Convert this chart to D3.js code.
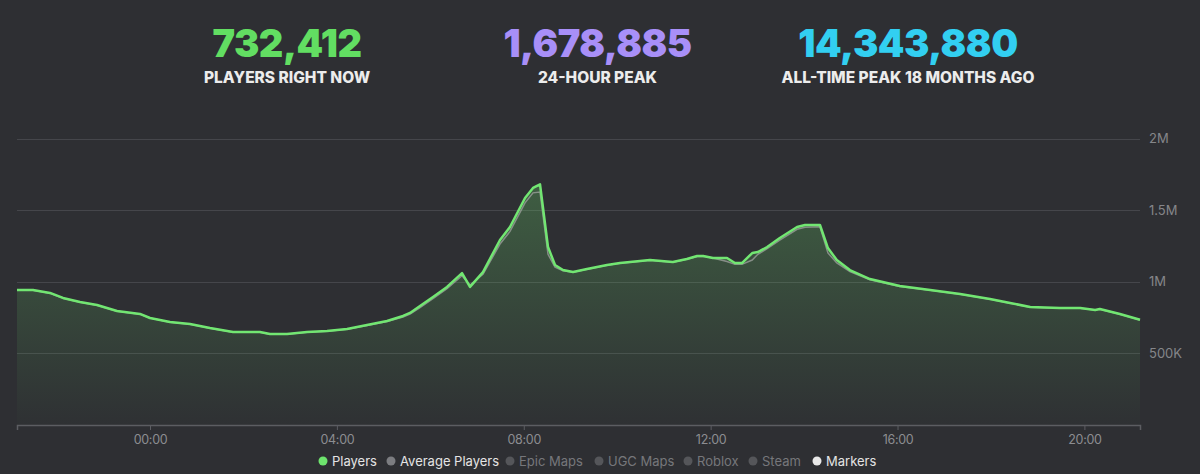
<!DOCTYPE html>
<html>
<head>
<meta charset="utf-8">
<script src="https://cdn.jsdelivr.net/npm/d3@7"></script>
<style>
  html, body { margin: 0; padding: 0; background: #2e2f33; }
  #chart { width: 1200px; height: 474px; }
  text { font-family: Inter, "Noto Sans", sans-serif; }
</style>
</head>
<body>
<div id="chart"></div>
<script>
// stats on top
var statValues = ["732,412", "1,678,885", "14,343,880"];
var statLabels = ["PLAYERS RIGHT NOW", "24-HOUR PEAK", "ALL-TIME PEAK 18 MONTHS AGO"];
var statColors = ["#62de62", "#a88ff8", "#32cff1"];

// hours relative to midnight
var hours = [-2.847, -2.504, -2.140, -1.862, -1.498, -1.134, -0.706, -0.214, 0, 0.428, 0.856, 1.284,
  1.777, 2.354, 2.568, 2.932, 3.360, 3.789, 4.217, 4.645, 5.073, 5.415, 5.565, 5.779, 6.057, 6.357,
  6.678, 6.849, 7.127, 7.491, 7.705, 8.027, 8.198, 8.348, 8.519, 8.669, 8.840, 9.054, 9.354, 9.782,
  10.06, 10.49, 10.70, 11.19, 11.49, 11.71, 11.84, 12.05, 12.35, 12.52, 12.67, 12.89, 13.01, 13.21,
  13.48, 13.85, 14.02, 14.34, 14.51, 14.70, 14.98, 15.41, 16.05, 16.70, 17.34, 17.98, 18.41, 18.84,
  19.48, 19.91, 20.23, 20.33, 20.76, 21.19];

var players = [940000, 940000, 920000, 885000, 857000, 836000, 794000, 773000, 745000, 717000, 703000, 675000,
  647000, 647000, 633000, 633000, 647000, 654000, 668000, 696000, 724000, 759000, 780000, 829000, 892000, 962000,
  1059000, 962000, 1066000, 1290000, 1381000, 1584000, 1654000, 1678885, 1241000, 1115000, 1080000, 1066000, 1087000, 1115000,
  1129000, 1143000, 1150000, 1136000, 1157000, 1178000, 1178000, 1164000, 1164000, 1129000, 1129000, 1199000, 1206000, 1241000,
  1304000, 1381000, 1395000, 1395000, 1234000, 1150000, 1080000, 1017000, 968000, 941000, 913000, 878000, 850000, 822000,
  815000, 815000, 801000, 808000, 773000, 732412];

var avgPlayers = [938000, 938000, 918000, 883000, 855000, 834000, 792000, 771000, 745000, 715000, 701000, 673000,
  645000, 645000, 631000, 631000, 645000, 652000, 666000, 692000, 720000, 752000, 772000, 818000, 880000, 950000,
  1040000, 975000, 1050000, 1262000, 1350000, 1550000, 1620000, 1625000, 1190000, 1100000, 1075000, 1064000, 1085000, 1113000,
  1127000, 1141000, 1148000, 1134000, 1155000, 1175000, 1176000, 1164000, 1140000, 1120000, 1120000, 1150000, 1190000, 1230000,
  1290000, 1365000, 1380000, 1382000, 1200000, 1130000, 1070000, 1012000, 965000, 938000, 911000, 876000, 848000, 820000,
  813000, 813000, 800000, 806000, 771000, 731000];

var yTicks = [500000, 1000000, 1500000, 2000000];
var yTickLabels = ["500K", "1M", "1.5M", "2M"];
var xTicks = [0, 4, 8, 12, 16, 20];
var xTickLabels = ["00:00", "04:00", "08:00", "12:00", "16:00", "20:00"];

var legendNames = ["Players", "Average Players", "Epic Maps", "UGC Maps", "Roblox", "Steam", "Markers"];
var legendDots = ["#6ee46e", "#7c7d81", "#55565a", "#55565a", "#55565a", "#55565a", "#e8e8e8"];
var legendText = ["#e4e4e4", "#e4e4e4", "#76777b", "#76777b", "#76777b", "#76777b", "#e4e4e4"];

var W = 1200, H = 474;
var svg = d3.select("#chart").append("svg")
  .attr("width", W)
  .attr("height", H);

svg.append("rect").attr("width", W).attr("height", H).attr("fill", "#2e2f33");

// header
var statX = d3.scalePoint().domain(d3.range(3)).range([287, 908]);
var stats = svg.append("g").selectAll("g")
  .data(statValues)
  .enter()
  .append("g")
    .attr("transform", function(d, i) { return "translate(" + statX(i) + ",0)"; });
stats.append("text")
  .attr("y", 57)
  .attr("text-anchor", "middle")
  .attr("font-size", 38)
  .attr("font-weight", 900)
  .attr("letter-spacing", "-0.5")
  .attr("fill", function(d, i) { return statColors[i]; })
  .text(function(d) { return d; });
stats.append("text")
  .attr("y", 83)
  .attr("text-anchor", "middle")
  .attr("font-size", 15.5)
  .attr("font-weight", 800)
  .attr("fill", "#ececec")
  .text(function(d, i) { return statLabels[i]; });

// scales
var x = d3.scaleLinear().domain([hours[0], hours[hours.length - 1]]).range([17, 1140]);
var y = d3.scaleLinear().domain([0, 2000000]).range([424.5, 138.5]);

// grid
svg.append("g").selectAll("line")
  .data(yTicks)
  .enter()
  .append("line")
    .attr("x1", 17).attr("x2", 1140)
    .attr("y1", function(d) { return Math.round(y(d)) + 0.5; })
    .attr("y2", function(d) { return Math.round(y(d)) + 0.5; })
    .attr("stroke", "#45464b")
    .attr("stroke-width", 1);

svg.append("g").selectAll("text")
  .data(yTicks)
  .enter()
  .append("text")
    .attr("x", 1149)
    .attr("y", function(d) { return y(d) + 4.5; })
    .attr("font-size", 13)
    .attr("fill", "#85868a")
    .text(function(d, i) { return yTickLabels[i]; });

// area gradient
var defs = svg.append("defs");
var grad = defs.append("linearGradient")
  .attr("id", "fillGrad")
  .attr("gradientUnits", "userSpaceOnUse")
  .attr("x1", 0).attr("x2", 0)
  .attr("y1", y(1700000)).attr("y2", y(0));
grad.append("stop").attr("offset", "0%").attr("stop-color", "#6ee46e").attr("stop-opacity", 0.26);
grad.append("stop").attr("offset", "100%").attr("stop-color", "#6ee46e").attr("stop-opacity", 0.01);

var area = d3.area()
  .x(function(d, i) { return x(hours[i]); })
  .y0(y(0))
  .y1(function(d) { return y(d); });

svg.append("path")
  .datum(players)
  .attr("d", area)
  .attr("fill", "url(#fillGrad)");

var line = d3.line()
  .x(function(d, i) { return x(hours[i]); })
  .y(function(d) { return y(d); });

svg.append("path")
  .datum(avgPlayers)
  .attr("d", line)
  .attr("fill", "none")
  .attr("stroke", "#a0a3a0")
  .attr("stroke-opacity", 0.75)
  .attr("stroke-width", 1.5);

svg.append("path")
  .datum(players)
  .attr("d", line)
  .attr("fill", "none")
  .attr("stroke", "#72e672")
  .attr("stroke-width", 2.5)
  .attr("stroke-linejoin", "round");

// x axis
var xAxis = svg.append("g")
  .attr("transform", "translate(0,425)")
  .call(d3.axisBottom(x).tickValues(xTicks).tickSize(5).tickPadding(5)
    .tickFormat(function(d, i) { return xTickLabels[i]; }));
xAxis.select(".domain").attr("stroke", "#5c5d62").attr("stroke-width", 1.5);
xAxis.selectAll(".tick line").attr("stroke", "#5c5d62");
xAxis.selectAll(".tick text")
  .attr("fill", "#8c8d91")
  .attr("font-size", 12.5)
  .attr("font-family", "Inter, sans-serif")
  .attr("letter-spacing", "-0.3");

// legend
var legendX = [323, 391, 510, 599, 688, 753, 817];
var legend = svg.append("g").selectAll("g")
  .data(legendNames)
  .enter()
  .append("g")
    .attr("transform", function(d, i) { return "translate(" + legendX[i] + ",461)"; });
legend.append("circle")
  .attr("r", 4.5)
  .attr("fill", function(d, i) { return legendDots[i]; });
legend.append("text")
  .attr("x", 9)
  .attr("y", 4.5)
  .attr("font-size", 13)
  .attr("fill", function(d, i) { return legendText[i]; })
  .text(function(d) { return d; });
</script>
</body>
</html>
